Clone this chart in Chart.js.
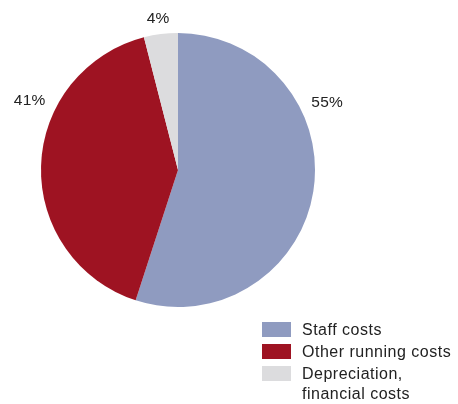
<!DOCTYPE html>
<html>
<head>
<meta charset="utf-8">
<script src="https://cdn.jsdelivr.net/npm/chart.js@4"></script>
<style>
  html, body { margin: 0; padding: 0; background: #fff; }
  #wrap { width: 458px; height: 404px; position: relative; }
</style>
</head>
<body>
<div id="wrap"><canvas id="costChart"></canvas></div>
<script>
// Données du graphique
const categories = ['Staff costs', 'Other running costs', ['Depreciation,', 'financial costs']];
const shares = [55, 41, 4];
const percentLabels = ['55%', '41%', '4%'];
const sliceColors = ['#8f9bc0', '#9e1322', '#dcdcde'];

// Position des étiquettes (degrés depuis le haut, sens horaire) et écart au bord
const labelAngles = [65.5, 295.3, 352.6];
const labelGaps = [27, 27, 17];

const textColor = '#222';
const fontFamily = '"Liberation Sans", Arial, Helvetica, sans-serif';

// Étiquettes en pourcentage autour du camembert
const outsideLabels = {
    id: 'outsideLabels',
    afterDatasetsDraw(chart) {
        const ctx = chart.ctx;
        const meta = chart.getDatasetMeta(0);
        ctx.save();
        ctx.font = '15.5px ' + fontFamily;
        ctx.letterSpacing = '0.3px';
        ctx.fillStyle = textColor;
        ctx.textAlign = 'center';
        ctx.textBaseline = 'middle';
        meta.data.forEach((arc, i) => {
            const a = labelAngles[i] * Math.PI / 180;
            const r = arc.outerRadius + labelGaps[i];
            ctx.fillText(percentLabels[i], arc.x + r * Math.sin(a), arc.y - r * Math.cos(a) + 1);
        });
        ctx.restore();
    }
};

// Légende dessinée en bas à droite
const customLegend = {
    id: 'customLegend',
    afterDraw(chart) {
        const ctx = chart.ctx;
        let y = 322;
        ctx.save();
        ctx.font = '16px ' + fontFamily;
        ctx.letterSpacing = '0.5px';
        ctx.textBaseline = 'middle';
        categories.forEach((label, i) => {
            ctx.fillStyle = sliceColors[i];
            ctx.fillRect(262, y, 29, 15);
            ctx.fillStyle = textColor;
            const lines = Array.isArray(label) ? label : [label];
            lines.forEach((line, j) => {
                ctx.fillText(line, 302, y + 9 + j * 20);
            });
            y += 22;
        });
        ctx.restore();
    }
};

const ctx = document.getElementById('costChart').getContext('2d');
const myChart = new Chart(ctx, {
    type: 'pie',
    data: {
        labels: categories,
        datasets: [{
            data: shares,
            backgroundColor: sliceColors,
            borderWidth: 0
        }]
    },
    options: {
        responsive: true,
        maintainAspectRatio: false,
        animation: false,
        layout: {
            padding: { left: 41, right: 143, top: 33, bottom: 97 }
        },
        plugins: {
            legend: { display: false },
            tooltip: { enabled: false }
        }
    },
    plugins: [outsideLabels, customLegend]
});
</script>
</body>
</html>
